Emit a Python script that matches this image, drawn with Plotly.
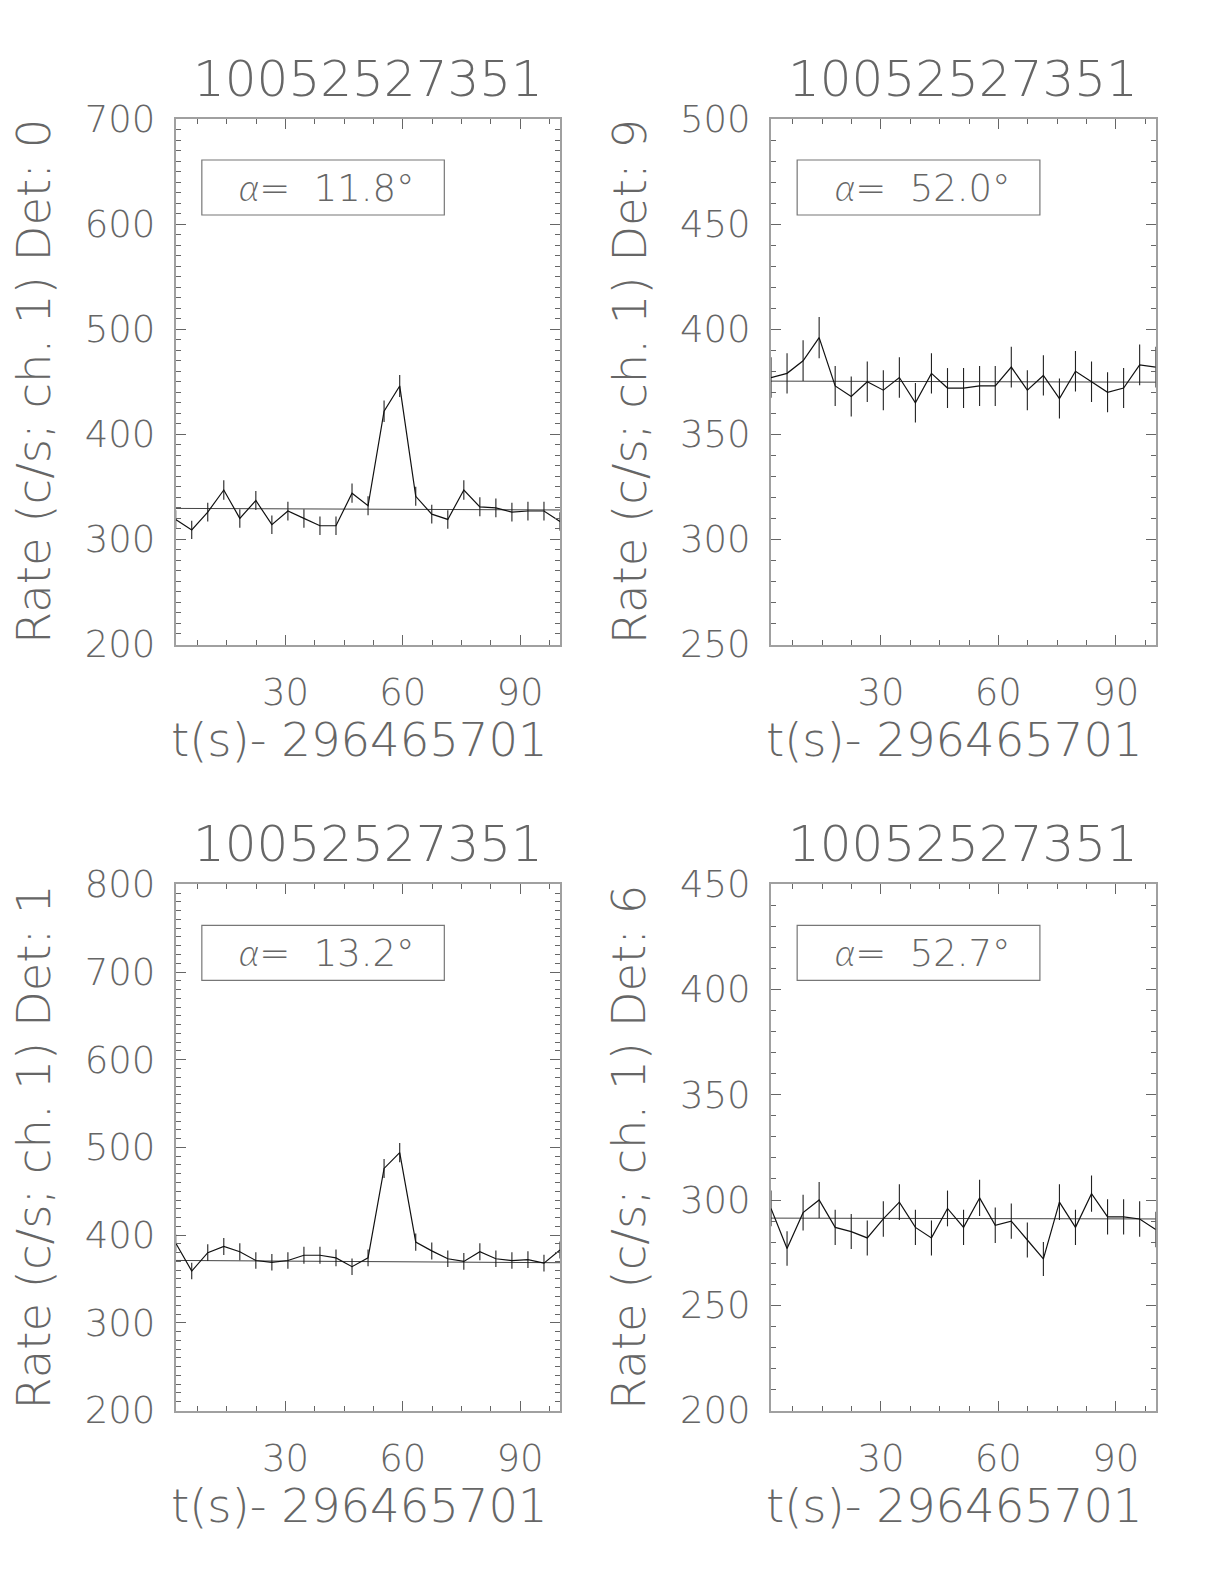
import plotly.graph_objects as go

# ---------------- data ----------------
time_s = [1.9, 6.0, 10.1, 14.2, 18.3, 22.4, 26.5, 30.6, 34.7, 38.8, 42.9, 47.0,
          51.1, 55.2, 59.2, 63.3, 67.4, 71.5, 75.6, 79.7, 83.8, 87.9, 92.0,
          96.1, 100.2]
x_range = [1.9, 100.2]
x_ticks = [30, 60, 90]

det_labels = ["0", "9", "1", "6"]
alpha_deg = ["11.8", "52.0", "13.2", "52.7"]
burst_id = "10052527351"
t_ref = "296465701"

rate_det0 = [319, 309, 326, 347, 320, 337, 314, 327, 320, 313, 313, 344, 332,
             422, 446, 341, 324, 319, 347, 331, 330, 326, 327, 327, 317]
err_det0 = [8.8, 8.7, 8.9, 9.2, 8.8, 9.1, 8.8, 8.9, 8.8, 8.7, 8.7, 9.2, 9.0,
            10.2, 10.4, 9.1, 8.9, 8.8, 9.2, 9.0, 9.0, 8.9, 8.9, 8.9, 8.8]
bg_det0 = [329.5, 328.0]

rate_det9 = [377, 379, 385, 396, 373, 368, 375, 371, 377, 365, 379, 372, 372,
             373, 373, 382, 371, 378, 367, 380, 375, 370, 372, 383, 382]
err_det9 = [9.6, 9.6, 9.7, 9.8, 9.5, 9.5, 9.6, 9.5, 9.6, 9.4, 9.6, 9.5, 9.5,
            9.5, 9.5, 9.7, 9.5, 9.6, 9.5, 9.6, 9.6, 9.5, 9.5, 9.7, 9.7]
bg_det9 = [375.3, 374.8]

rate_det1 = [391, 359, 380, 387, 381, 371, 369, 371, 377, 377, 374, 364, 374,
             476, 494, 392, 382, 373, 370, 381, 373, 371, 372, 368, 383]
err_det1 = [9.8, 9.4, 9.6, 9.7, 9.6, 9.5, 9.5, 9.5, 9.6, 9.6, 9.6, 9.4, 9.6,
            10.8, 11.0, 9.8, 9.7, 9.5, 9.5, 9.6, 9.5, 9.5, 9.5, 9.5, 9.7]
bg_det1 = [371.1, 368.5]

rate_det6 = [296, 277, 294, 300, 287, 285, 282, 291, 299, 287, 282, 296, 287,
             301, 288, 290, 281, 272, 299, 287, 303, 292, 292, 291, 286]
err_det6 = [8.5, 8.2, 8.5, 8.6, 8.4, 8.3, 8.3, 8.4, 8.5, 8.4, 8.3, 8.5, 8.4,
            8.6, 8.4, 8.4, 8.3, 8.1, 8.5, 8.4, 8.6, 8.4, 8.4, 8.4, 8.4]
bg_det6 = [291.4, 291.0]

y_ranges = [[200, 700], [250, 500], [200, 800], [200, 450]]
y_dticks = [100, 50, 100, 50]

rates = [rate_det0, rate_det9, rate_det1, rate_det6]
errs = [err_det0, err_det9, err_det1, err_det6]
bgs = [bg_det0, bg_det9, bg_det1, bg_det6]

# ---------------- layout geometry (page pixels) ----------------
PAGE_OFF = 8                      # default body margin of the html page
W, H = 1224 - 2 * PAGE_OFF, 1584 - 2 * PAGE_OFF
col_px = [(175.7, 560.0), (771.0, 1155.7)]
row_px = [(119.0, 644.5), (884.3, 1410.5)]


def px_x(p):
    return (p - PAGE_OFF) / W


def px_y(p):
    return 1 - (p - PAGE_OFF) / H


FONT = "DejaVu Sans"
WT = 200
TXT = "#666666"
AX = "#a0a0a0"
TK = "#666666"

fig = go.Figure()
layout = dict(width=W, height=H, margin=dict(l=0, r=0, t=0, b=0, pad=0),
              plot_bgcolor="white", paper_bgcolor="white", showlegend=False)
annotations = []
shapes = []

for i in range(4):
    r, c = divmod(i, 2)
    xa = "x" if i == 0 else f"x{i+1}"
    ya = "y" if i == 0 else f"y{i+1}"
    xkey = "xaxis" if i == 0 else f"xaxis{i+1}"
    ykey = "yaxis" if i == 0 else f"yaxis{i+1}"
    x0p, x1p = col_px[c]
    y0p, y1p = row_px[r]
    xdom = [px_x(x0p), px_x(x1p)]
    ydom = [px_y(y1p), px_y(y0p)]

    # background line
    fig.add_trace(go.Scatter(x=x_range, y=bgs[i], mode="lines",
                             line=dict(color="#444444", width=1),
                             xaxis=xa, yaxis=ya, hoverinfo="skip"))
    # data with error bars
    fig.add_trace(go.Scatter(x=time_s, y=rates[i], mode="lines",
                             line=dict(color="#111111", width=1.2),
                             error_y=dict(type="data", array=errs[i], visible=True,
                                          width=0, thickness=1.1, color="#222222"),
                             xaxis=xa, yaxis=ya))

    layout[xkey] = dict(domain=xdom, anchor=ya, range=x_range, automargin=False,
                        tickvals=x_ticks, ticks="inside", ticklen=10, tickwidth=1,
                        tickcolor=TK, showline=True, linecolor=AX, linewidth=2,
                        mirror="ticks", showgrid=False, zeroline=False,
                        minor=dict(dtick=7.5, tick0=0, ticks="inside", ticklen=5,
                                   tickcolor=TK, showgrid=False),
                        tickfont=dict(family=FONT, size=37, color=TXT, weight=WT),
                        ticklabelstandoff=14)
    layout[ykey] = dict(domain=ydom, anchor=xa, range=y_ranges[i], automargin=False,
                        dtick=y_dticks[i], tick0=0, ticks="inside", ticklen=10,
                        tickwidth=1, tickcolor=TK, showline=True,
                        linecolor=AX, linewidth=2, mirror="ticks", showgrid=False,
                        zeroline=False,
                        minor=dict(dtick=10, tick0=0, ticks="inside", ticklen=5,
                                   tickcolor=TK, showgrid=False),
                        tickfont=dict(family=FONT, size=37, color=TXT, weight=WT),
                        ticklabelstandoff=11)

    cx = (x0p + x1p) / 2
    # title
    annotations.append(dict(text=burst_id, x=px_x(cx), y=px_y(y0p - 40),
                            xref="paper", yref="paper", xanchor="center",
                            yanchor="middle", showarrow=False,
                            font=dict(family=FONT, size=50, color=TXT, weight=WT)))
    # x-axis title
    annotations.append(dict(text=f"t(s)- {t_ref}", x=px_x(cx - 8.5),
                            y=px_y(y1p + 95), xref="paper", yref="paper",
                            xanchor="center", yanchor="middle", showarrow=False,
                            font=dict(family=FONT, size=46.5, color=TXT, weight=WT)))
    # y-axis title
    annotations.append(dict(text=f"Rate (c/s; ch. 1) Det: {det_labels[i]}",
                            x=px_x(x0p - 141.5), y=px_y((y0p + y1p) / 2),
                            xref="paper", yref="paper", xanchor="center",
                            yanchor="middle", textangle=-90, showarrow=False,
                            font=dict(family=FONT, size=46.5, color=TXT, weight=WT)))
    # alpha box
    shapes.append(dict(type="rect", xref=f"{xa} domain", yref=f"{ya} domain",
                       x0=0.068, x1=0.699, y0=0.8173, y1=0.922,
                       line=dict(color="#777777", width=1.2), fillcolor="rgba(0,0,0,0)"))
    annotations.append(dict(text=('<span style="font-family:Lato;font-weight:300">'
                                  '<i>\u03b1</i></span>=  ' + alpha_deg[i] + '\u00b0'),
                            xref=f"{xa} domain", yref=f"{ya} domain",
                            x=0.394, y=0.871, xanchor="center", yanchor="middle",
                            showarrow=False,
                            font=dict(family=FONT, size=37, color=TXT, weight=WT)))

layout["annotations"] = annotations
layout["shapes"] = shapes
fig.update_layout(**layout)
fig.write_html("out.html")
